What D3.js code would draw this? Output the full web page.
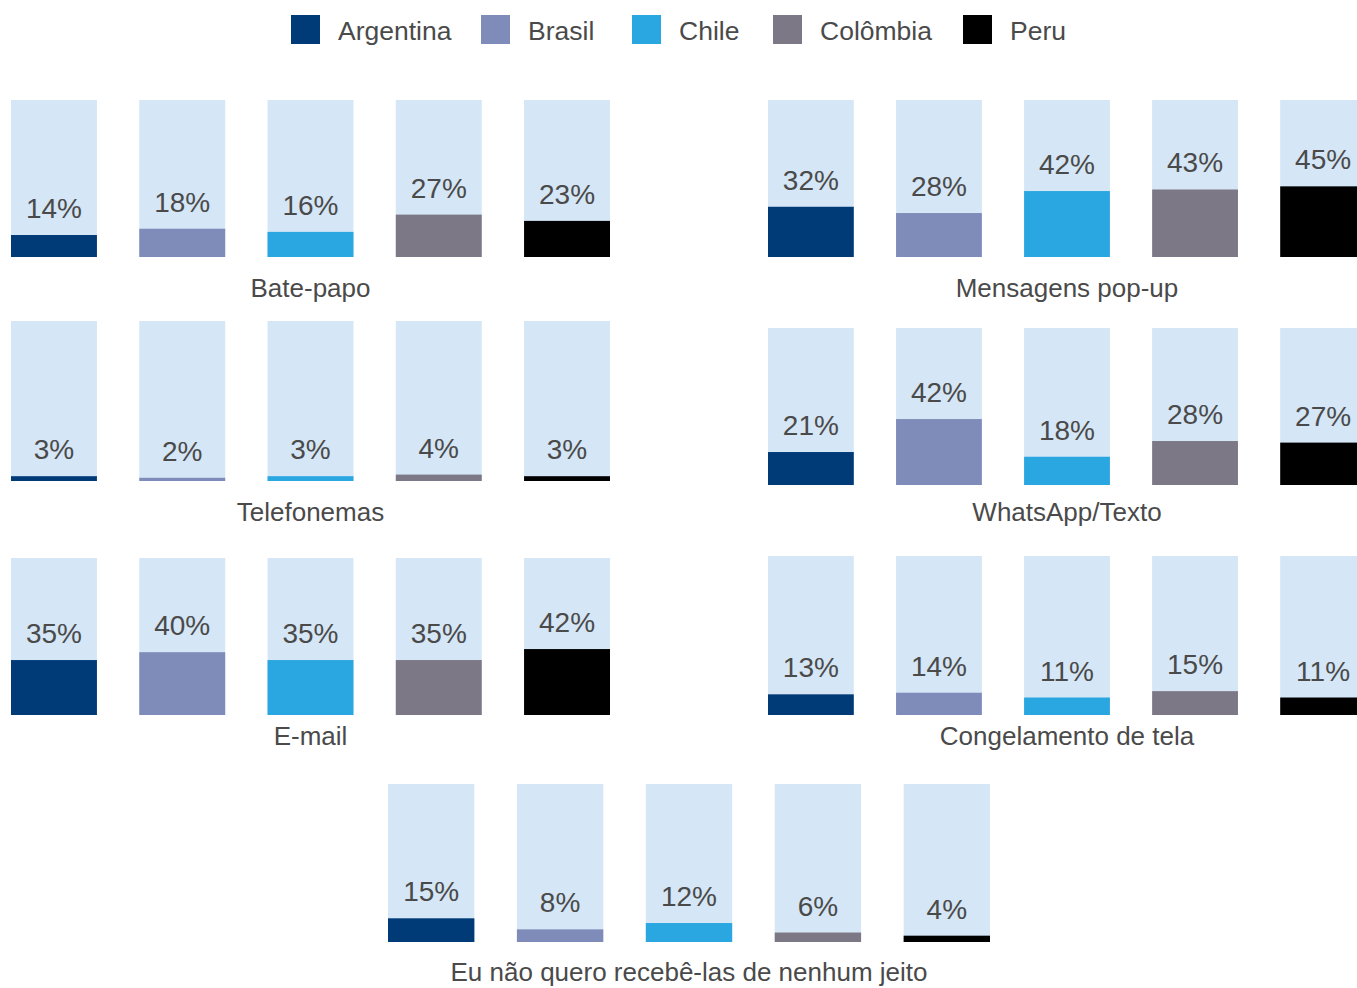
<!DOCTYPE html>
<html>
<head>
<meta charset="utf-8">
<script src="https://cdn.jsdelivr.net/npm/d3@7"></script>
<style>
  body { margin: 0; background: #fff; }
  svg text { font-family: "Liberation Sans", Arial, sans-serif; fill: #4a4a4a; }
</style>
</head>
<body>
<div id="chart"></div>
<script>
const countries = ["Argentina", "Brasil", "Chile", "Colômbia", "Peru"];
const colors = ["#003b77", "#7f8bb9", "#2aa6e0", "#7c7885", "#000000"];

const panelNames = [
  "Bate-papo", "Mensagens pop-up",
  "Telefonemas", "WhatsApp/Texto",
  "E-mail", "Congelamento de tela",
  "Eu não quero recebê-las de nenhum jeito"
];

const batePapo      = [14, 18, 16, 27, 23];
const popUp         = [32, 28, 42, 43, 45];
const telefonemas   = [3, 2, 3, 4, 3];
const whatsapp      = [21, 42, 18, 28, 27];
const email         = [35, 40, 35, 35, 42];
const congelamento  = [13, 14, 11, 15, 11];
const nenhumJeito   = [15, 8, 12, 6, 4];

const panelValues = [batePapo, popUp, telefonemas, whatsapp, email, congelamento, nenhumJeito];

// layout of each small multiple: x extent, bar top/bottom, label baseline
const layout = [
  {x0: 11,  x1: 610,  top: 100, bottom: 257, labelY: 297},
  {x0: 768, x1: 1366, top: 100, bottom: 257, labelY: 297},
  {x0: 11,  x1: 610,  top: 321, bottom: 481, labelY: 521},
  {x0: 768, x1: 1366, top: 328, bottom: 485, labelY: 521},
  {x0: 11,  x1: 610,  top: 558, bottom: 715, labelY: 745},
  {x0: 768, x1: 1366, top: 556, bottom: 715, labelY: 745},
  {x0: 388, x1: 990,  top: 784, bottom: 942, labelY: 981}
];

const width = 1357, height = 988;

const svg = d3.select("#chart")
  .append("svg")
  .attr("width", width)
  .attr("height", height);

const color = d3.scaleOrdinal().domain(countries).range(colors);

// Legend
const legendX = [291, 481, 632, 773, 963];
const legend = svg.append("g").attr("class", "legend");
countries.forEach((c, i) => {
  const g = legend.append("g").attr("transform", `translate(${legendX[i]},15)`);
  g.append("rect")
    .attr("width", 29)
    .attr("height", 29)
    .attr("fill", color(c));
  g.append("text")
    .attr("x", 47)
    .attr("y", 25)
    .style("font-size", "26.5px")
    .text(c);
});

// Panels
panelValues.forEach((values, p) => {
  const L = layout[p];
  const data = countries.map((c, i) => ({country: c, value: values[i]}));

  const x = d3.scaleBand()
    .domain(countries)
    .range([L.x0, L.x1])
    .paddingInner(0.33)
    .paddingOuter(0);

  const y = d3.scaleLinear()
    .domain([0, 100])
    .range([L.bottom, L.top]);

  const g = svg.append("g").attr("class", "panel");

  // background (100%)
  g.selectAll("rect.bg")
    .data(data)
    .enter()
    .append("rect")
    .attr("class", "bg")
    .attr("x", d => x(d.country))
    .attr("y", y(100))
    .attr("width", x.bandwidth())
    .attr("height", y(0) - y(100))
    .attr("fill", "#d5e6f6");

  g.selectAll("rect.val")
    .data(data)
    .enter()
    .append("rect")
    .attr("class", "val")
    .attr("x", d => x(d.country))
    .attr("y", d => y(d.value))
    .attr("width", x.bandwidth())
    .attr("height", d => y(0) - y(d.value))
    .attr("fill", d => color(d.country));

  g.selectAll("text.val")
    .data(data)
    .enter()
    .append("text")
    .attr("class", "val")
    .attr("x", d => x(d.country) + x.bandwidth() / 2)
    .attr("y", d => y(d.value) - 17)
    .attr("text-anchor", "middle")
    .style("font-size", "28px")
    .text(d => d.value + "%");

  g.append("text")
    .attr("x", (L.x0 + L.x1) / 2)
    .attr("y", L.labelY)
    .attr("text-anchor", "middle")
    .style("font-size", "26px")
    .text(panelNames[p]);
});
</script>
</body>
</html>
